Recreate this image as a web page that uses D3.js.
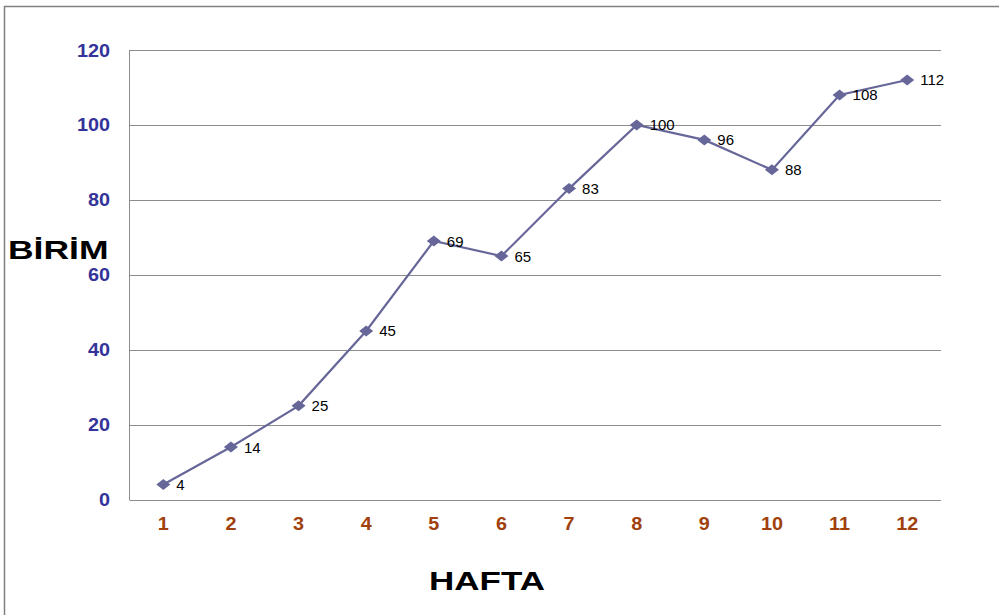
<!DOCTYPE html>
<html>
<head>
<meta charset="utf-8">
<script src="https://cdn.jsdelivr.net/npm/d3@7"></script>
<style>
  html, body { margin: 0; padding: 0; background: #fff; }
  svg { display: block; }
</style>
</head>
<body>
<svg id="chart" width="999" height="615"></svg>
<script>
// Weekly units
const weeks = ["1", "2", "3", "4", "5", "6", "7", "8", "9", "10", "11", "12"];
const units = [4, 14, 25, 45, 69, 65, 83, 100, 96, 88, 108, 112];
const yTicks = [0, 20, 40, 60, 80, 100, 120];
const yTitle = "BİRİM";
const xTitle = "HAFTA";

const FONT = "Liberation Sans, Arial, sans-serif";
const svg = d3.select("#chart");
const plot = { left: 129.5, top: 50, right: 941, bottom: 499.5 };

// outer frame (left and top edges)
svg.append("path")
  .attr("d", "M4.5,615 V6.5 H999")
  .attr("fill", "none")
  .attr("stroke", "#808080")
  .attr("stroke-width", 1.5);

const x = d3.scaleBand().domain(weeks).range([plot.left, plot.right]);
const y = d3.scaleLinear().domain([0, 120]).range([plot.bottom, plot.top]);
const cx = d => x(d) + x.bandwidth() / 2;

// horizontal gridlines
svg.append("g")
  .selectAll("line")
  .data(yTicks)
  .join("line")
  .attr("x1", plot.left).attr("x2", plot.right)
  .attr("y1", d => Math.round(y(d)) + 0.5).attr("y2", d => Math.round(y(d)) + 0.5)
  .attr("stroke", "#8c8c8c")
  .attr("stroke-width", 1);

// left axis line
svg.append("line")
  .attr("x1", plot.left).attr("x2", plot.left)
  .attr("y1", plot.top).attr("y2", plot.bottom + 0.5)
  .attr("stroke", "#8c8c8c");

// y tick labels (slightly widened lettering)
svg.append("g")
  .selectAll("text")
  .data(yTicks)
  .join("text")
  .attr("transform", d => `translate(110,${y(d) + 6.5}) scale(1.1,1)`)
  .attr("text-anchor", "end")
  .attr("fill", "#333399")
  .attr("font-family", FONT)
  .attr("font-size", 18)
  .attr("font-weight", "bold")
  .text(d => d);

// x tick labels
svg.append("g")
  .selectAll("text")
  .data(x.domain())
  .join("text")
  .attr("transform", d => `translate(${cx(d)},530) scale(1.1,1)`)
  .attr("text-anchor", "middle")
  .attr("fill", "#a0410d")
  .attr("font-family", FONT)
  .attr("font-size", 18)
  .attr("font-weight", "bold")
  .text(d => d);

// line
const line = d3.line()
  .x((d, i) => cx(weeks[i]))
  .y(d => y(d));
svg.append("path")
  .datum(units)
  .attr("d", line)
  .attr("fill", "none")
  .attr("stroke", "#666699")
  .attr("stroke-width", 2.2);

// diamond markers, a little wider than tall
const diamond = "M-7,0 L0,-5.5 L7,0 L0,5.5 Z";
svg.append("g")
  .selectAll("path")
  .data(units)
  .join("path")
  .attr("d", diamond)
  .attr("transform", (d, i) => `translate(${cx(weeks[i])},${y(d)})`)
  .attr("fill", "#666699");

// value labels
svg.append("g")
  .selectAll("text")
  .data(units)
  .join("text")
  .attr("x", (d, i) => cx(weeks[i]) + 13)
  .attr("y", d => y(d) + 5.5)
  .attr("font-family", FONT)
  .attr("font-size", 15)
  .attr("fill", "#000")
  .text(d => d);

// axis titles (wide lettering)
svg.append("text")
  .attr("transform", "translate(8,259) scale(1.42,1)")
  .attr("font-family", FONT)
  .attr("font-size", 25)
  .attr("font-weight", "bold")
  .attr("fill", "#000")
  .text(yTitle);

svg.append("text")
  .attr("transform", "translate(487,590) scale(1.4,1)")
  .attr("text-anchor", "middle")
  .attr("font-family", FONT)
  .attr("font-size", 25)
  .attr("font-weight", "bold")
  .attr("fill", "#000")
  .text(xTitle);
</script>
</body>
</html>
